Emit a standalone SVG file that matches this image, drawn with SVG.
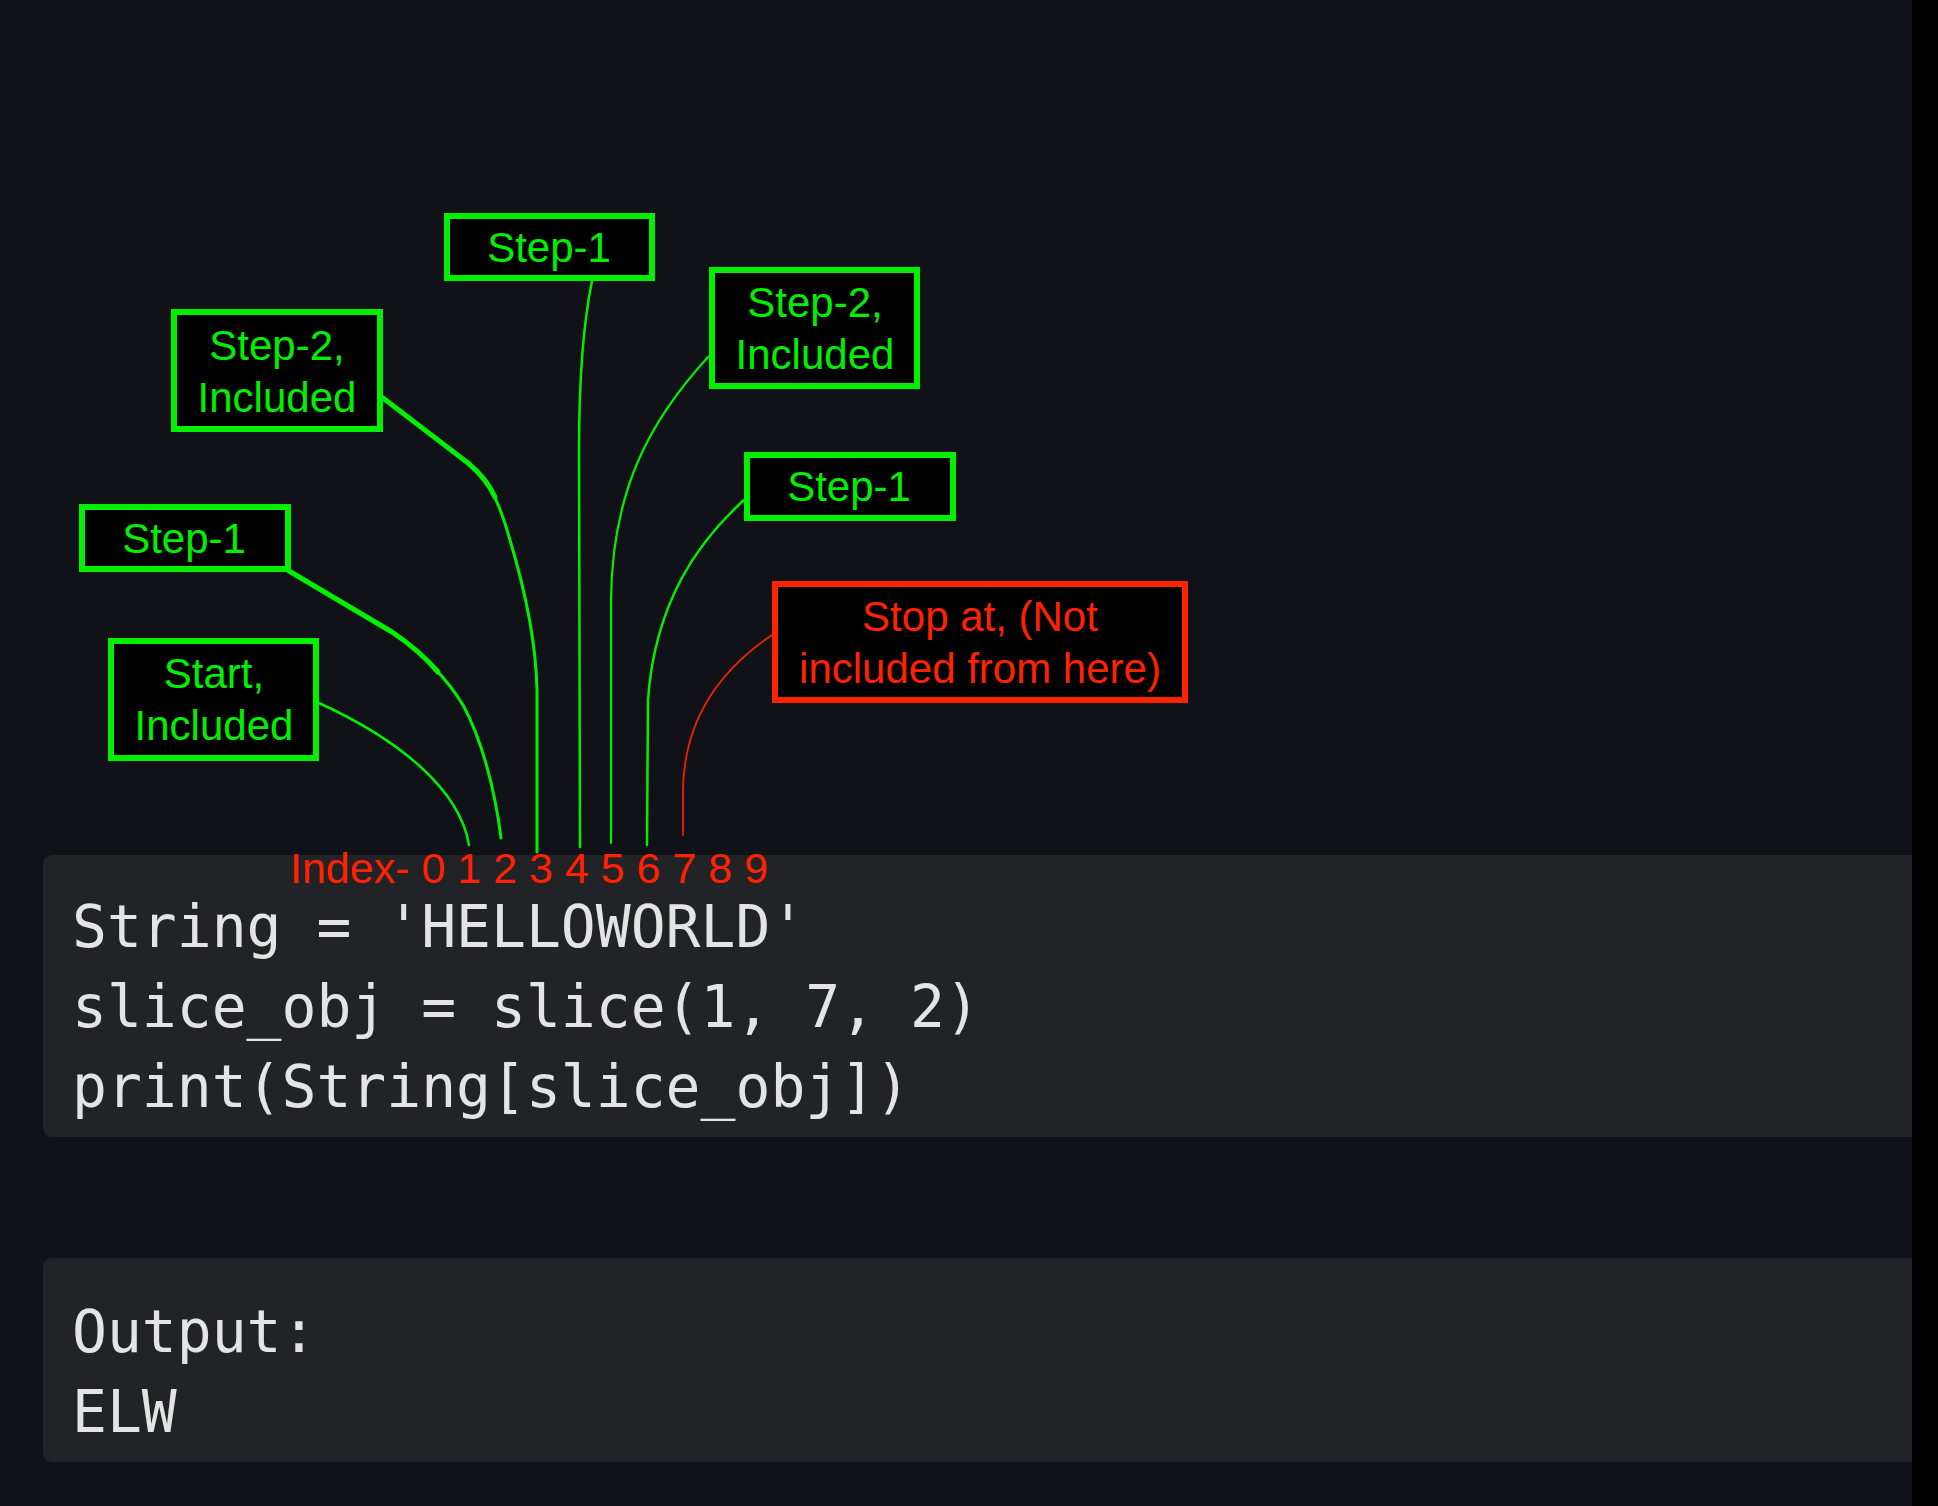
<svg xmlns="http://www.w3.org/2000/svg" width="1938" height="1506" viewBox="0 0 1938 1506">
<style>
.bg{fill:#111217}
.code{fill:#222327}
.g rect{fill:#000;stroke:#00f000;stroke-width:6}
.r rect{fill:#000;stroke:#ff2200;stroke-width:6}
.g text{fill:#00f000;font-family:"Liberation Sans",Arial,sans-serif;font-size:42px;text-anchor:middle}
.r text{fill:#ff2200;font-family:"Liberation Sans",Arial,sans-serif;font-size:42px;text-anchor:middle}
.mono{fill:#e4e4e4;font-family:"DejaVu Sans Mono",monospace;font-size:58px}
.idx{fill:#ff2200;font-family:"Liberation Sans",Arial,sans-serif;font-size:43px}
.cg{fill:none;stroke:#00f000;stroke-linecap:round;stroke-linejoin:round}
.cr{fill:none;stroke:#ee2200;stroke-width:1.8;stroke-linecap:round}
</style>
<rect class="bg" x="0" y="0" width="1938" height="1506"/>
<rect x="1912" y="0" width="26" height="1506" fill="#000"/>
<path class="code" d="M53,855 H1912 V1137 H53 Q43,1137 43,1127 V865 Q43,855 53,855 Z"/>
<path class="code" d="M53,1258 H1912 V1462 H53 Q43,1462 43,1452 V1268 Q43,1258 53,1258 Z"/>

<g id="connectors">
<path class="cg" stroke-width="2.5" d="M319,703 C400,740 460,790 469,845"/>
<path class="cg" stroke-width="3" d="M289,571 L392,632 C420,650 448,680 463,705 C482,740 495,790 501,838"/>
<path class="cg" stroke-width="5" d="M289,571 L392,632 C410,644 425,657 438,672"/>
<path class="cg" stroke-width="3" d="M383,398 L468,463 C490,480 500,505 510,540 C525,590 536,640 537,690 L537,852"/>
<path class="cg" stroke-width="5" d="M383,398 L468,463 C480,473 489,484 495,497"/>
<path class="cg" stroke-width="2.5" d="M592,281 C584,320 579,380 579,450 L580,847"/>
<path class="cg" stroke-width="2.2" d="M709,356 C650,420 612,490 611,600 L611,843"/>
<path class="cg" stroke-width="2.5" d="M744,500 C700,540 655,600 648,700 L647,845"/>
<path class="cr" d="M772,635 C720,670 684,720 683,790 L683,835"/>
</g>

<g id="node-step1-top" class="g">
<rect x="447" y="216" width="205" height="62"/>
<text x="549" y="262">Step-1</text>
</g>
<g id="node-step2-left" class="g">
<rect x="174" y="312" width="206" height="117"/>
<text x="277" y="360">Step-2,</text>
<text x="277" y="412">Included</text>
</g>
<g id="node-step1-left" class="g">
<rect x="82" y="507" width="206" height="62"/>
<text x="184" y="553">Step-1</text>
</g>
<g id="node-start" class="g">
<rect x="111" y="641" width="205" height="117"/>
<text x="214" y="688">Start,</text>
<text x="214" y="740">Included</text>
</g>
<g id="node-step2-right" class="g">
<rect x="712" y="270" width="205" height="116"/>
<text x="815" y="317">Step-2,</text>
<text x="815" y="369">Included</text>
</g>
<g id="node-step1-right" class="g">
<rect x="747" y="455" width="206" height="63"/>
<text x="849" y="501">Step-1</text>
</g>
<g id="node-stop" class="r">
<rect x="775" y="584" width="410" height="116"/>
<text x="980" y="631">Stop at, (Not</text>
<text x="980" y="683">included from here)</text>
</g>

<g id="index">
<text class="idx" x="290" y="883">Index- 0 1 2 3 4 5 6 7 8 9</text>
</g>
<g id="code">
<text class="mono" x="72" y="947" xml:space="preserve">String = 'HELLOWORLD'</text>
<text class="mono" x="72" y="1027" xml:space="preserve">slice_obj = slice(1, 7, 2)</text>
<text class="mono" x="72" y="1107" xml:space="preserve">print(String[slice_obj])</text>
</g>
<g id="output">
<text class="mono" x="72" y="1352">Output:</text>
<text class="mono" x="72" y="1432">ELW</text>
</g>
</svg>
